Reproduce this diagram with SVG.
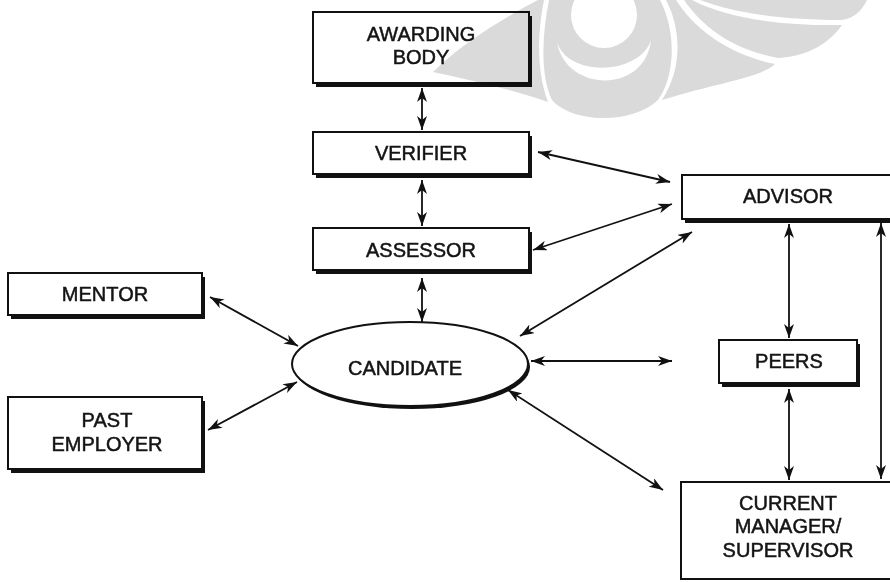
<svg xmlns="http://www.w3.org/2000/svg" width="890" height="582" viewBox="0 0 890 582">
<defs>
<marker id="ah" markerUnits="userSpaceOnUse" markerWidth="15" markerHeight="10" refX="14" refY="5" orient="auto-start-reverse" viewBox="0 0 15 10">
<path d="M0,0 L14,5 L0,10 L4,5 Z" fill="#111"/>
</marker>
</defs>
<style>
.box{fill:#fff;stroke:#111;stroke-width:2}
.sh{fill:#111}
.t{font-family:"Liberation Sans",Arial,sans-serif;font-size:20px;fill:#141414;stroke:#141414;stroke-width:0.5;text-anchor:middle}
.c line{stroke:#111;stroke-width:1.8;marker-start:url(#ah);marker-end:url(#ah)}
.wm{fill:#dadada;mix-blend-mode:multiply}
</style>
<rect width="890" height="582" fill="#fff"/>

<g id="awarding-body">
<rect class="sh" x="316" y="16" width="216" height="71"/>
<rect class="box" x="313" y="12" width="216" height="71"/>
<text class="t" x="421" y="41">AWARDING</text>
<text class="t" x="421" y="64">BODY</text>
</g>
<g id="verifier">
<rect class="sh" x="316" y="136" width="216" height="42"/>
<rect class="box" x="313" y="132" width="216" height="42"/>
<text class="t" x="421" y="160">VERIFIER</text>
</g>
<g id="assessor">
<rect class="sh" x="316" y="232" width="216" height="42"/>
<rect class="box" x="313" y="228" width="216" height="42"/>
<text class="t" x="421" y="257">ASSESSOR</text>
</g>
<g id="mentor">
<rect class="sh" x="11" y="277" width="194" height="42"/>
<rect class="box" x="8" y="273" width="194" height="42"/>
<text class="t" x="105" y="301">MENTOR</text>
</g>
<g id="past-employer">
<rect class="sh" x="11" y="401" width="194" height="72"/>
<rect class="box" x="8" y="397" width="194" height="72"/>
<text class="t" x="107" y="427">PAST</text>
<text class="t" x="107" y="451">EMPLOYER</text>
</g>
<g id="candidate">
<ellipse class="sh" cx="412" cy="367" rx="118" ry="42"/>
<ellipse class="box" cx="410" cy="364" rx="118" ry="42"/>
<text class="t" x="405" y="375">CANDIDATE</text>
</g>
<g id="advisor">
<rect class="sh" x="685" y="179" width="220" height="44"/>
<rect class="box" x="682" y="175" width="220" height="44"/>
<text class="t" x="788" y="203">ADVISOR</text>
</g>
<g id="peers">
<rect class="sh" x="722" y="344" width="138" height="43"/>
<rect class="box" x="719" y="340" width="138" height="43"/>
<text class="t" x="789" y="368">PEERS</text>
</g>
<g id="current-manager">
<rect class="box" x="681" y="482" width="220" height="97"/>
<text class="t" x="788" y="510">CURRENT</text>
<text class="t" x="788" y="533">MANAGER/</text>
<text class="t" x="788" y="557">SUPERVISOR</text>
</g>

<g id="connectors" class="c">
<line x1="422" y1="88" x2="422" y2="130"/>
<line x1="422" y1="180" x2="422" y2="226"/>
<line x1="422" y1="278" x2="422" y2="322"/>
<line x1="538" y1="152" x2="670" y2="182"/>
<line x1="533" y1="250" x2="672" y2="204"/>
<line x1="520" y1="336" x2="692" y2="232"/>
<line x1="210" y1="297" x2="298" y2="346"/>
<line x1="208" y1="430" x2="297" y2="382"/>
<line x1="531" y1="361" x2="672" y2="361"/>
<line x1="508" y1="390" x2="663" y2="490"/>
<line x1="789" y1="224" x2="789" y2="338"/>
<line x1="789" y1="389" x2="789" y2="480"/>
<line x1="881" y1="223" x2="881" y2="479"/>
</g>

<g id="watermark">
<path class="wm" d="M549,0 L660,0 C676,30 676,75 658,100 C645,112 625,118 603,118 C580,118 560,110 552,100 C540,75 542,35 549,0 Z M637,15 A33,33 0 1 0 571,15 A33,33 0 1 0 637,15 Z M557,42 C565,92 645,95 651,40 C640,75 568,78 557,42 Z" fill-rule="evenodd"/>
<path class="wm" d="M433,72 C460,45 500,20 538,0 L544,0 C536,40 538,75 548,102 C515,90 470,80 433,72 Z"/>
<path class="wm" d="M666,0 L676,0 C695,30 730,55 775,64 C760,78 720,82 662,100 C682,70 682,30 666,0 Z"/>
<path class="wm" d="M684,0 L692,0 C730,20 790,26 842,25 C830,42 810,56 778,58 C735,50 705,30 684,0 Z"/>
<path class="wm" d="M700,0 L867,0 C862,10 855,18 842,20 C790,20 740,15 700,0 Z"/>
</g>
</svg>
